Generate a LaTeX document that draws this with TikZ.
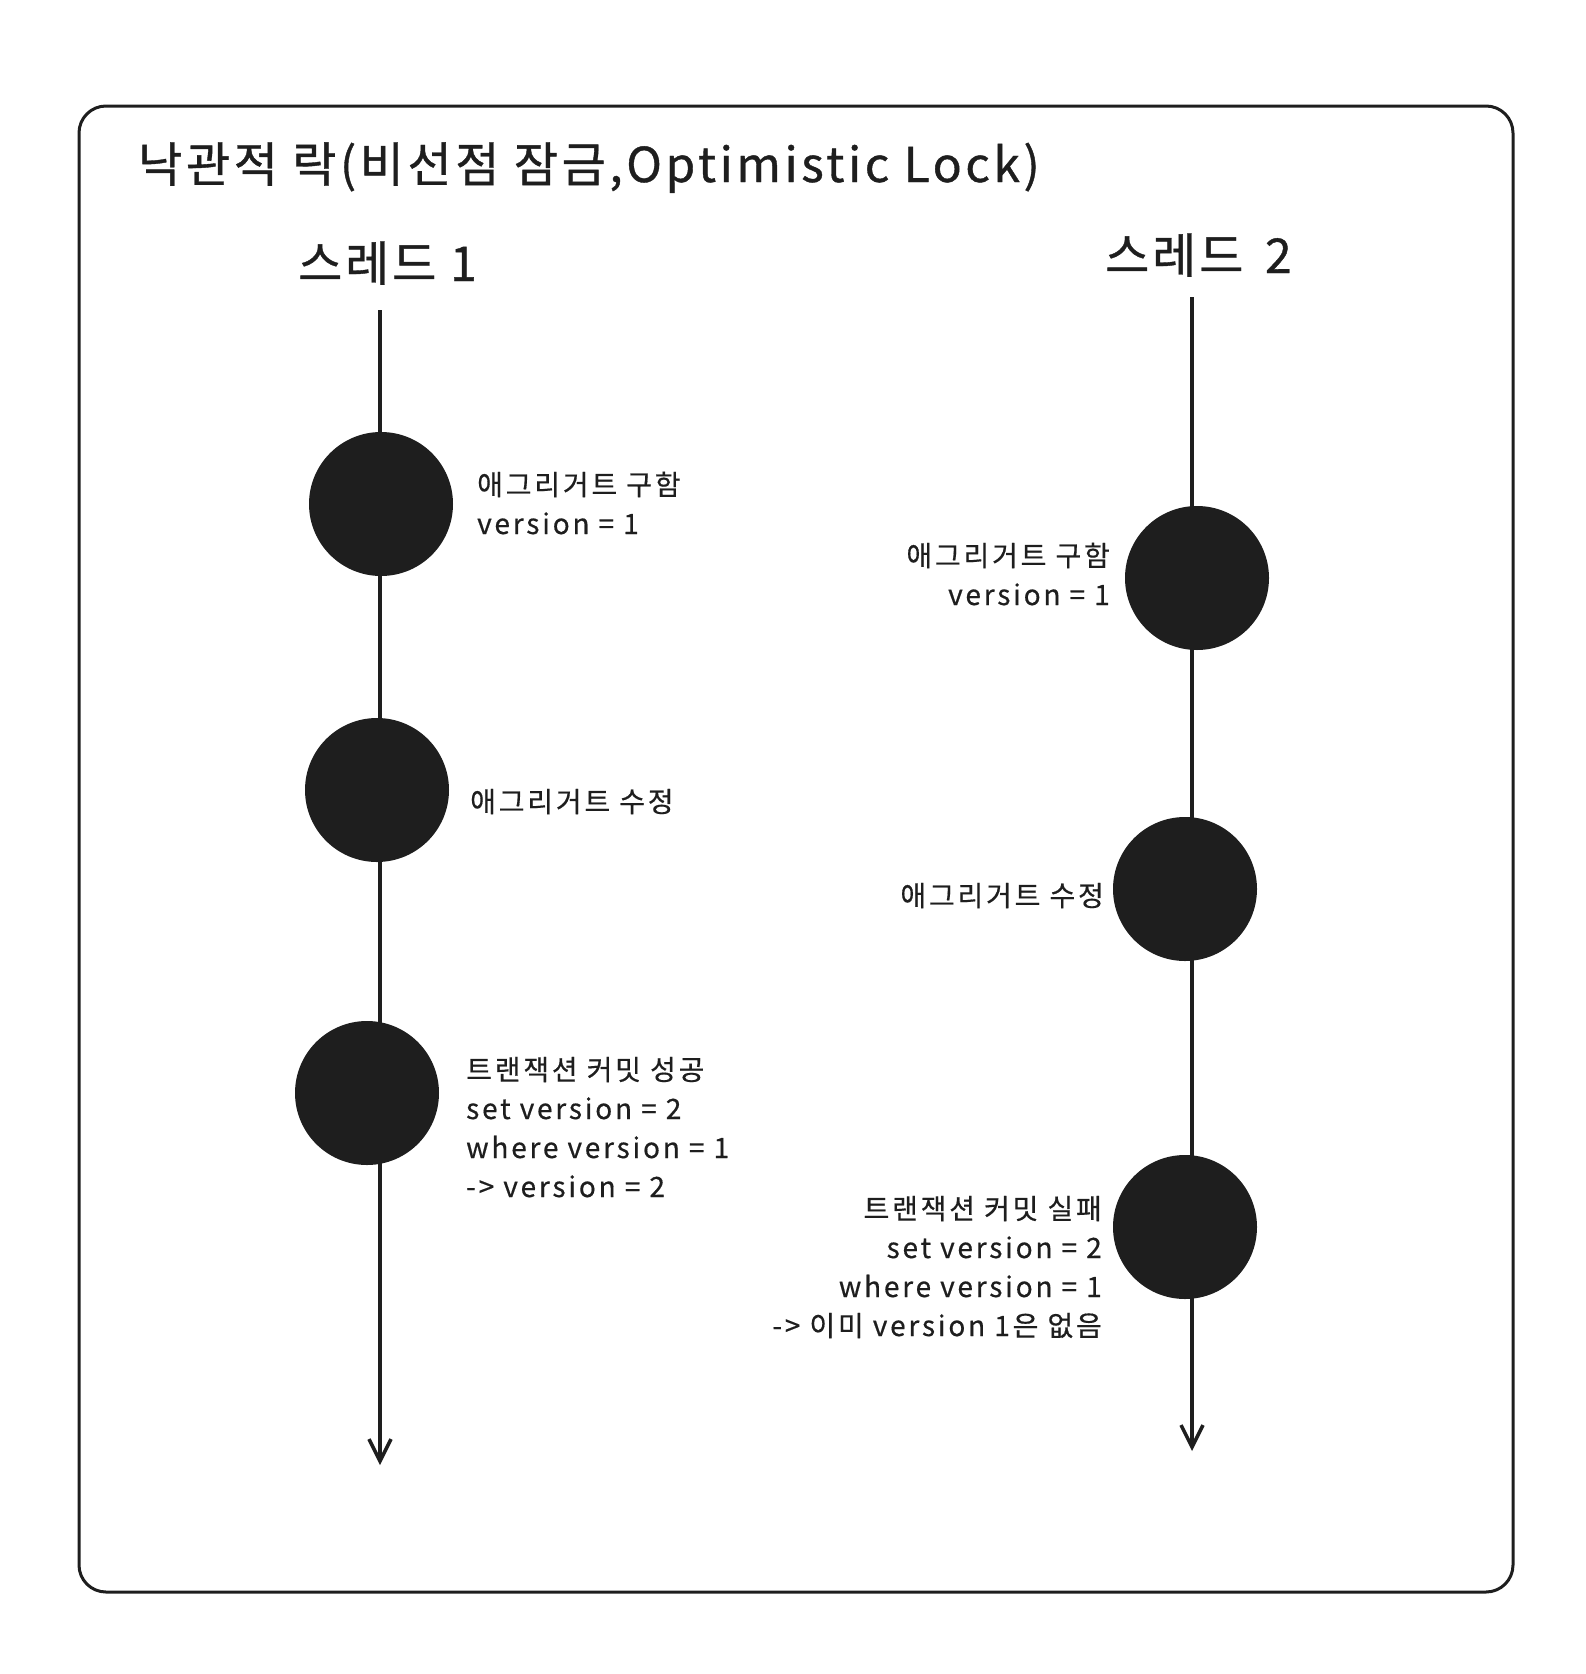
\documentclass[tikz,border=0pt]{standalone}
\usepackage{fontspec}
\setmainfont{Noto Sans CJK KR}
\newfontfamily\titlefont[LetterSpace=7.5,FakeBold=0.8]{Noto Sans CJK KR}
\newfontfamily\bigfont[LetterSpace=6,FakeBold=0.8]{Noto Sans CJK KR}
\newfontfamily\lblfont[LetterSpace=10,FakeBold=0.5]{Noto Sans CJK KR}
\usetikzlibrary{arrows.meta}
\definecolor{ink}{HTML}{1E1E1E}
\tikzset{
  frame/.style={draw=ink, line width=3pt, rounded corners=27pt},
  timeline/.style={draw=ink, line width=3.5pt, -{Straight Barb[length=22pt,width=22pt,line width=3.5pt]}},
  event/.style={circle, fill=ink, draw=none, inner sep=0pt, minimum size=144pt},
  big/.style={text=ink, inner sep=0pt, anchor=base west, font=\bigfont\fontsize{48}{58}\selectfont},
  lbl/.style={text=ink, inner sep=0pt, font=\lblfont\fontsize{28}{39}\selectfont},
  lblL/.style={lbl, anchor=base west, align=left},
  lblR/.style={lbl, anchor=base east, align=right},
}
\begin{document}
\begin{tikzpicture}[x=1pt, y=-1pt]
\useasboundingbox (0,0) rectangle (1586,1674);
\draw[frame] (79,106) rectangle (1513,1592);
\node[big, font=\titlefont\fontsize{48}{58}\selectfont] (title) at (138,182) {낙관적 락(비선점 잠금,Optimistic Lock)};
\node[big] (th1) at (298,281) {스레드 1};
\node[big] (th2) at (1105,273) {스레드\hspace{8pt} 2};
% timelines
\coordinate (t1s) at (380,310);
\coordinate (t1e) at (380,1465);
\coordinate (t2s) at (1192,297);
\coordinate (t2e) at (1192,1451);
\draw[timeline] (t1s) -- (t1e);
\draw[timeline] (t2s) -- (t2e);
% thread 1 events
\node[event] (a1) at (381,504) {};
\node[event] (a2) at (377,790) {};
\node[event] (a3) at (367,1093) {};
% thread 2 events
\node[event] (b1) at (1197,578) {};
\node[event] (b2) at (1185,889) {};
\node[event] (b3) at (1185,1227) {};
% labels thread 1 (anchor at baseline of last line)
\node[lblL] (la1) at (477,534) {애그리거트 구함\\version = 1};
\node[lblL] (la2) at (470,812) {애그리거트 수정};
\node[lblL] (la3) at (466,1197) {트랜잭션 커밋 성공\\set version = 2\\where version = 1\\-> version = 2};
% labels thread 2
\node[lblR] (lb1) at (1110,605) {애그리거트 구함\\version = 1};
\node[lblR] (lb2) at (1104,906) {애그리거트 수정};
\node[lblR] (lb3) at (1102,1336) {트랜잭션 커밋 실패\\set version = 2\\where version = 1\\-> 이미 version 1은 없음};
\end{tikzpicture}
\end{document}
